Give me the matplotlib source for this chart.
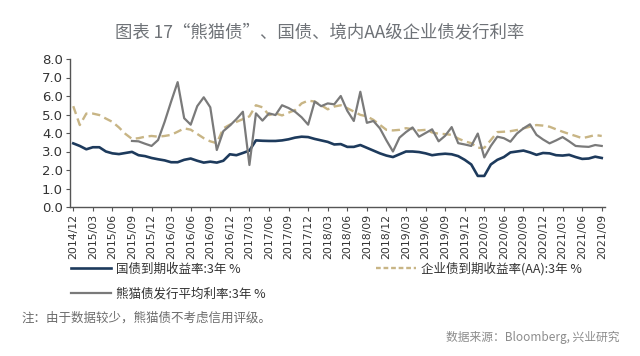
import numpy as np
import matplotlib
matplotlib.use('Agg')
import matplotlib.pyplot as plt
from matplotlib.lines import Line2D

plt.rcParams['font.family'] = ['Noto Sans CJK SC', 'DejaVu Sans']

# monthly data, 2014/12 .. 2021/09
gov_3y = [3.44, 3.30, 3.12, 3.23, 3.23, 3.00, 2.90, 2.86, 2.92, 2.98,
          2.80, 2.75, 2.65, 2.58, 2.52, 2.42, 2.42, 2.55, 2.62, 2.50,
          2.40, 2.45, 2.40, 2.50, 2.85, 2.80, 2.92, 3.05, 3.60, 3.58,
          3.57, 3.57, 3.60, 3.66, 3.75, 3.80, 3.78, 3.68, 3.60, 3.52,
          3.38, 3.40, 3.25, 3.25, 3.35, 3.20, 3.05, 2.90, 2.78, 2.70,
          2.85, 3.00, 3.00, 2.97, 2.90, 2.80, 2.85, 2.88, 2.85, 2.75,
          2.55, 2.30, 1.68, 1.68, 2.30, 2.55, 2.70, 2.95, 3.00, 3.05,
          2.95, 2.82, 2.92, 2.90, 2.80, 2.78, 2.82, 2.70, 2.60, 2.62,
          2.72, 2.65]

corp_aa_3y = [5.45, 4.43, 5.05, 5.05, 4.97, 4.78, 4.60, 4.30, 3.95, 3.68,
              3.72, 3.80, 3.84, 3.80, 3.84, 3.90, 4.07, 4.25, 4.18, 3.95,
              3.72, 3.55, 3.45, 4.25, 4.45, 4.60, 4.75, 4.90, 5.50, 5.39,
              4.97, 5.06, 4.95, 5.10, 5.24, 5.60, 5.75, 5.70, 5.50, 5.28,
              5.43, 5.50, 5.34, 5.16, 4.98, 4.90, 4.71, 4.44, 4.17, 4.14,
              4.17, 4.26, 4.21, 4.14, 4.17, 4.03, 3.96, 3.94, 3.90, 3.70,
              3.55, 3.45, 3.20, 3.20, 3.62, 4.05, 4.07, 4.10, 4.16, 4.25,
              4.34, 4.43, 4.40, 4.34, 4.20, 4.07, 3.95, 3.84, 3.72, 3.80,
              3.89, 3.84]

panda_3y = [np.nan] * 9 + [
    3.57, 3.55, 3.42, 3.30, 3.62, 4.60, 5.70, 6.75, 4.80, 4.45,
    5.45, 5.93, 5.39, 3.08, 4.10, 4.40, 4.75, 5.15, 2.27, 5.06,
    4.67, 5.06, 4.97, 5.50, 5.35, 5.15, 4.85, 4.45, 5.70, 5.45,
    5.60, 5.55, 6.00, 5.20, 4.65, 6.23, 4.55, 4.65, 4.25, 3.60,
    3.00, 3.75, 4.05, 4.30, 3.80, 4.00, 4.20, 3.55, 3.85, 4.32,
    3.45, 3.38, 3.30, 3.97, 2.68, 3.30, 3.80, 3.72, 3.53, 3.97,
    4.25, 4.47, 3.90, 3.65, 3.44, 3.60, 3.78, 3.55, 3.30, 3.27,
    3.25, 3.35, 3.30]

tick_labels = ['2014/12']
for yr in range(2015, 2022):
    for mo in ['03', '06', '09', '12']:
        if yr == 2021 and mo == '12':
            continue
        tick_labels.append(f'{yr}/{mo}')

blue = '#1d3a5c'
tan = '#c8b585'
grey = '#7a7a7a'

x = np.arange(len(gov_3y))

fig = plt.figure(figsize=(6.4, 3.56), dpi=100)
ax = fig.add_axes([70 / 640, 1 - 207 / 356, 535 / 640, 148 / 356])

ax.plot(x, gov_3y, color=blue, lw=1.9)
ax.plot(x, corp_aa_3y, color=tan, lw=1.7, dashes=(3.5, 2.0))
ax.plot(x, panda_3y, color=grey, lw=1.6)

ax.set_ylim(0, 8)
ax.set_xlim(-0.5, len(gov_3y) - 0.5)
ax.set_yticks(np.arange(0, 8.1, 1.0))
ax.set_yticklabels([f'{v:.1f}' for v in np.arange(0, 8.1, 1.0)],
                   fontsize=9.5, family='DejaVu Sans', color='#333333')
ax.set_xticks(np.arange(0, len(gov_3y), 3))
ax.set_xticklabels(tick_labels, rotation=90, fontsize=7.8,
                   family='DejaVu Sans', color='#333333')
ax.tick_params(axis='both', direction='out', length=3, width=0.8,
               color='#555555', pad=2)

for s in ['top', 'right']:
    ax.spines[s].set_visible(False)
for s in ['left', 'bottom']:
    ax.spines[s].set_color('#555555')
    ax.spines[s].set_linewidth(1.0)

handles = [Line2D([], [], color=blue, lw=1.9),
           Line2D([], [], color=grey, lw=1.6),
           Line2D([], [], color=tan, lw=1.7, dashes=(2.0, 1.2))]
labels = ['国债到期收益率:3年 %', '熊猫债发行平均利率:3年 %',
          '企业债到期收益率(AA):3年 %']
fig.legend(handles, labels, loc='upper left', ncol=2,
           bbox_to_anchor=(71 / 640, 1 - 262 / 356), frameon=False,
           fontsize=9, handlelength=3.2, handletextpad=0.4,
           columnspacing=8.8, labelspacing=0.95, borderpad=0,
           borderaxespad=0, labelcolor='#333333')

fig.text(0.5, 1 - 33 / 356, '图表 17“熊猫债”、国债、境内AA级企业债发行利率',
         ha='center', va='center', fontsize=12.5, color='#6e7277')
fig.text(22 / 640, 1 - 318 / 356, '注：由于数据较少，熊猫债不考虑信用评级。',
         ha='left', va='center', fontsize=9, color='#6b6b6b')
fig.text(620 / 640, 1 - 337 / 356, '数据来源：Bloomberg, 兴业研究',
         ha='right', va='center', fontsize=8.5, color='#8c8c8c')

fig.savefig('out.png', dpi=100)
